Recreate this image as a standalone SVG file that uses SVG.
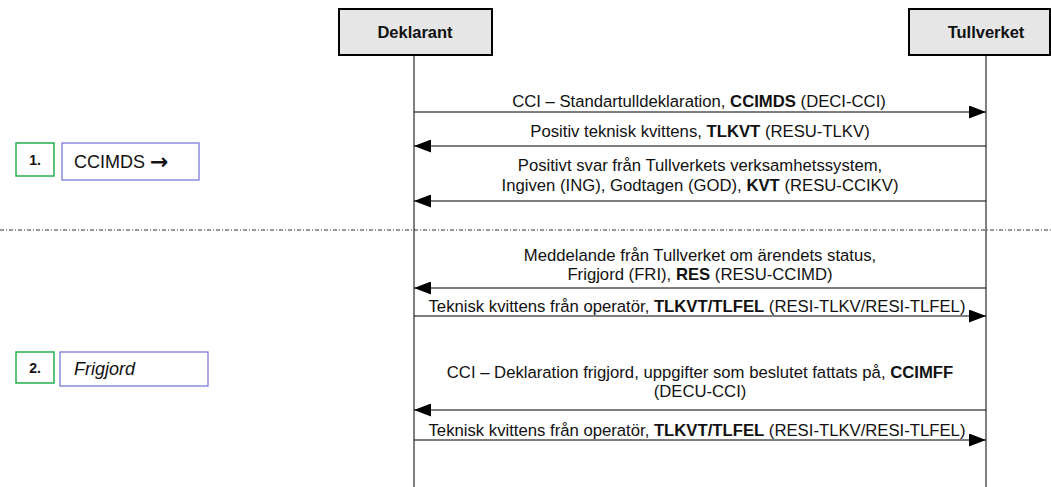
<svg xmlns="http://www.w3.org/2000/svg" width="1051" height="487" viewBox="0 0 1051 487">
<style>
text{font-family:"Liberation Sans",Arial,sans-serif;font-size:16.7px;fill:#111}
.m{text-anchor:middle}
.b{font-weight:bold}
.actor rect{fill:#e6e6e6;stroke:#000;stroke-width:2}
.actor text{font-size:16.5px;font-weight:bold}
.life{stroke:#000;stroke-width:1}
.msg{stroke:#000;stroke-width:1.2;fill:none}
.num{font-size:14px;font-weight:bold}
.lbl{font-size:18px}
</style>
<defs>
<marker id="ah" markerWidth="17" markerHeight="13" refX="17" refY="6.5" orient="auto" markerUnits="userSpaceOnUse">
<path d="M0,0 L17,6.5 L0,13 Z" fill="#000"/>
</marker>
</defs>
<line x1="0" y1="230" x2="1051" y2="230" stroke="#333" stroke-width="1" stroke-dasharray="4,2,1,2"/>
<g id="deklarant" class="actor">
<rect x="339" y="9" width="153" height="46"/>
<text x="415" y="38" class="m">Deklarant</text>
<line class="life" x1="414" y1="55" x2="414" y2="487"/>
</g>
<g id="tullverket" class="actor">
<rect x="909" y="9" width="141" height="46"/>
<text x="986" y="38" class="m">Tullverket</text>
<line class="life" x1="986" y1="55" x2="986" y2="487"/>
</g>
<g id="step1">
<rect x="16" y="143" width="38" height="33" fill="#fff" stroke="#22b14c" stroke-width="1.5"/>
<text x="35" y="165" class="m num">1.</text>
<rect x="62" y="143" width="137" height="37" fill="#fff" stroke="#7070d8" stroke-width="1.2"/>
<text x="74" y="168" class="lbl">CCIMDS <tspan font-family="'DejaVu Sans',sans-serif" font-weight="bold" font-size="22px" dy="1">→</tspan></text>
</g>
<g id="step2">
<rect x="16" y="352" width="38" height="31" fill="#fff" stroke="#22b14c" stroke-width="1.5"/>
<text x="35" y="373" class="m num">2.</text>
<rect x="60" y="352" width="148" height="34" fill="#fff" stroke="#7070d8" stroke-width="1.2"/>
<text x="74" y="375" class="lbl" font-style="italic">Frigjord</text>
</g>
<g id="connectors">
<line class="msg" x1="414" y1="112" x2="986" y2="112" marker-end="url(#ah)"/>
<line class="msg" x1="986" y1="146" x2="414" y2="146" marker-end="url(#ah)"/>
<line class="msg" x1="986" y1="201" x2="414" y2="201" marker-end="url(#ah)"/>
<line class="msg" x1="986" y1="288" x2="414" y2="288" marker-end="url(#ah)"/>
<line class="msg" x1="414" y1="316" x2="986" y2="316" marker-end="url(#ah)"/>
<line class="msg" x1="986" y1="410" x2="414" y2="410" marker-end="url(#ah)"/>
<line class="msg" x1="414" y1="440" x2="986" y2="440" marker-end="url(#ah)"/>
</g>
<g id="labels">
<text x="699" y="107" class="m">CCI – Standartulldeklaration, <tspan class="b">CCIMDS</tspan> (DECI-CCI)</text>
<text x="700" y="137" class="m">Positiv teknisk kvittens, <tspan class="b">TLKVT</tspan> (RESU-TLKV)</text>
<text x="700" y="171" class="m">Positivt svar från Tullverkets verksamhetssystem,</text>
<text x="700" y="191" class="m">Ingiven (ING), Godtagen (GOD), <tspan class="b">KVT</tspan> (RESU-CCIKV)</text>
<text x="700" y="261" class="m">Meddelande från Tullverket om ärendets status,</text>
<text x="700" y="280" class="m">Frigjord (FRI), <tspan class="b">RES</tspan> (RESU-CCIMD)</text>
<text x="697" y="312" class="m">Teknisk kvittens från operatör, <tspan class="b">TLKVT/TLFEL</tspan> (RESI-TLKV/RESI-TLFEL)</text>
<text x="700" y="378" class="m">CCI – Deklaration frigjord, uppgifter som beslutet fattats på, <tspan class="b">CCIMFF</tspan></text>
<text x="700" y="397" class="m">(DECU-CCI)</text>
<text x="697" y="436" class="m">Teknisk kvittens från operatör, <tspan class="b">TLKVT/TLFEL</tspan> (RESI-TLKV/RESI-TLFEL)</text>
</g>
</svg>
